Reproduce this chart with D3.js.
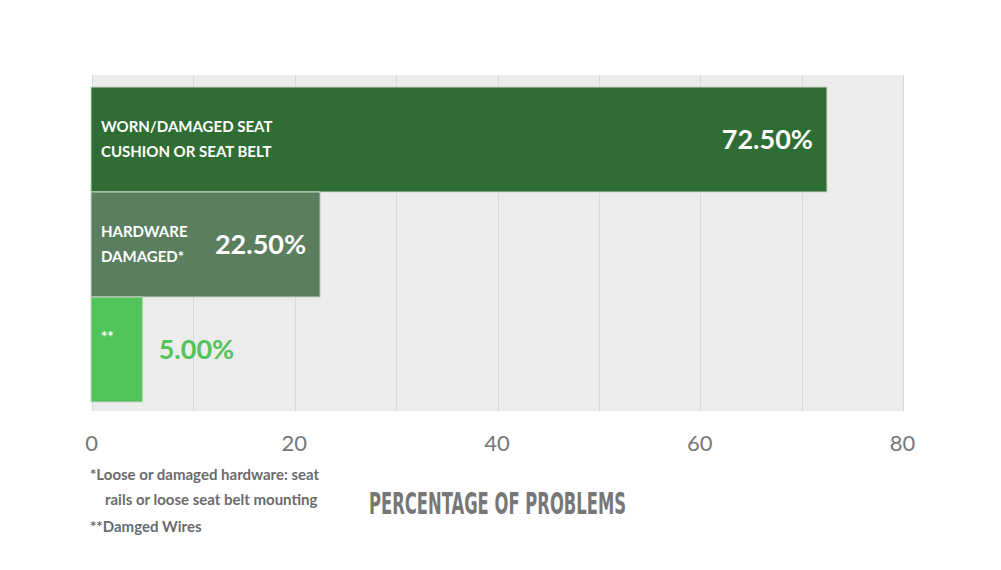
<!DOCTYPE html>
<html>
<head>
<meta charset="utf-8">
<script src="https://cdn.jsdelivr.net/npm/d3@7"></script>
<style>
  body { margin: 0; background: #fff; }
  svg { display: block; }
</style>
</head>
<body>
<svg width="1001" height="570"></svg>
<script>
var categories = [
  ["WORN/DAMAGED SEAT", "CUSHION OR SEAT BELT"],
  ["HARDWARE", "DAMAGED*"],
  ["**"]
];
var values     = [72.5, 22.5, 5.0];
var barColors  = ["#2f6d34", "#5b7e5e", "#52c45a"];
var tickValues = [0, 20, 40, 60, 80];
var gridValues = [0, 10, 20, 30, 40, 50, 60, 70, 80];
var footnotes  = [
  "*Loose or damaged hardware: seat",
  "rails or loose seat belt mounting",
  "**Damged Wires"
];
var axisTitle  = "PERCENTAGE OF PROBLEMS";

var svg = d3.select("svg");

const plot = { left: 92, right: 903, top: 75, bottom: 411 };

var x = d3.scaleLinear()
    .domain([0, 80])
    .range([plot.left, plot.right]);

var y = d3.scaleBand()
    .domain(d3.range(values.length))
    .range([87, 402])
    .paddingInner(0);

// background panel
svg.append("rect")
    .attr("x", plot.left)
    .attr("y", plot.top)
    .attr("width", plot.right - plot.left)
    .attr("height", plot.bottom - plot.top)
    .style("fill", "#ececec");

// vertical grid
svg.append("g")
  .selectAll("line")
  .data(gridValues)
  .join("line")
    .attr("x1", d => Math.round(x(d)) + 0.5)
    .attr("x2", d => Math.round(x(d)) + 0.5)
    .attr("y1", plot.top)
    .attr("y2", plot.bottom)
    .style("stroke", "#d8d8d8")
    .style("stroke-width", 1);

// bars
var bars = svg.append("g")
  .selectAll("g")
  .data(values)
  .join("g");

bars.append("rect")
    .attr("x", x(0) - 1)
    .attr("y", (d, i) => y(i))
    .attr("width", d => x(d) - x(0) + 1)
    .attr("height", y.bandwidth())
    .style("fill", (d, i) => barColors[i])
    .style("stroke", "#c9d3c9")
    .style("stroke-width", 1);

// category labels inside bars
bars.each(function (d, i) {
  var cy = y(i) + y.bandwidth() / 2;
  d3.select(this).append("text")
      .attr("font-family", "Lato")
      .attr("font-weight", "bold")
      .attr("font-size", 15)
      .attr("fill", "#ffffff")
    .selectAll("tspan")
    .data(categories[i])
    .join("tspan")
      .attr("x", 101)
      .attr("y", (t, k) => cy - 8 + k * 25)
      .text(t => t);
});

// value labels
bars.append("text")
    .attr("font-family", "Lato")
    .attr("font-weight", "bold")
    .attr("font-size", 27)
    .attr("y", (d, i) => y(i) + y.bandwidth() / 2 + 9)
    .attr("x", d => d > 10 ? x(d) - 14 : x(d) + 16)
    .attr("text-anchor", d => d > 10 ? "end" : "start")
    .attr("fill", (d, i) => d > 10 ? "#ffffff" : barColors[i])
    .text(d => d.toFixed(2) + "%");

// x axis tick labels
var xAxis = d3.axisBottom(x)
    .tickValues(tickValues)
    .tickSize(0)
    .tickPadding(0);

svg.append("g")
    .attr("transform", "translate(0," + 451 + ")")
    .call(xAxis)
    .call(g => g.select(".domain").remove())
    .call(g => g.selectAll("text")
        .attr("dy", 0)
        .attr("x", -1)
        .attr("font-family", "Lato")
        .attr("font-size", 22)
        .attr("fill", "#777777"));

// footnotes
svg.append("g")
  .selectAll("text")
  .data(footnotes)
  .join("text")
    .attr("x", (d, i) => i == 1 ? 105 : 90)
    .attr("y", (d, i) => [480, 505, 532][i])
    .attr("font-family", "Lato")
    .attr("font-weight", "bold")
    .attr("font-size", 15)
    .attr("fill", "#6b6b6b")
    .text(d => d);

// axis title
svg.append("text")
    .attr("x", 369)
    .attr("y", 514)
    .attr("textLength", 257)
    .attr("lengthAdjust", "spacingAndGlyphs")
    .attr("font-family", "'Liberation Sans Narrow', 'DejaVu Sans Condensed', sans-serif")
    .attr("font-weight", "bold")
    .attr("font-size", 30)
    .attr("fill", "#777777")
    .text(axisTitle);
</script>
</body>
</html>
